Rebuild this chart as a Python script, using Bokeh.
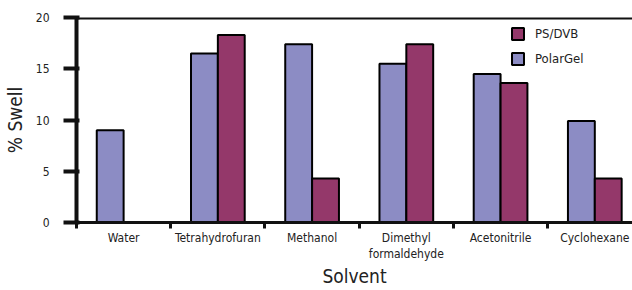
from bokeh.plotting import figure
from bokeh.models import FixedTicker, Span, Legend, LegendItem, ColumnDataSource, Range1d
from bokeh.embed import file_html
from bokeh.resources import INLINE

solvents = ["Water", "Tetrahydrofuran", "Methanol", "Dimethyl\nformaldehyde", "Acetonitrile", "Cyclohexane"]
polargel = [9.0, 16.5, 17.4, 15.5, 14.5, 9.9]
psdvb = [0.0, 18.3, 4.3, 17.4, 13.6, 4.3]
y_ticks = [0, 5, 10, 15, 20]
x_title = "Solvent"
y_title = "% Swell"

FONT = "DejaVu Sans Condensed, Roboto, sans-serif"
C_PG = "#8c8cc4"
C_PS = "#94386a"
TXT = "#222222"

centers = [i + 0.5 for i in range(len(solvents))]
bw = 0.285
src_pg = ColumnDataSource(dict(x=[c - bw / 2 for c in centers], top=polargel))
src_ps = ColumnDataSource(dict(x=[c + bw / 2 for c in centers], top=psdvb))

p = figure(width=632, height=290, output_backend="svg", toolbar_location=None,
           x_range=Range1d(0, 5.9), y_range=Range1d(0, 20.0),
           min_border_left=75, min_border_right=0, min_border_top=17, min_border_bottom=68)
p.outline_line_color = None
p.grid.visible = False
p.background_fill_color = "white"

r_pg = p.vbar(x="x", top="top", width=bw, source=src_pg, fill_color=C_PG,
              line_color="black", line_width=2)
r_ps = p.vbar(x="x", top="top", width=bw, source=src_ps, fill_color=C_PS,
              line_color="black", line_width=2)

# top border line
p.add_layout(Span(location=20, dimension="width", line_color="#111111", line_width=4))

# y axis
yax = p.yaxis[0]
yax.ticker = FixedTicker(ticks=y_ticks)
yax.axis_line_width = 4
yax.axis_line_color = "#111111"
yax.major_tick_line_width = 4
yax.major_tick_line_color = "#111111"
yax.major_tick_out = 13
yax.major_tick_in = 3
yax.minor_tick_line_color = None
yax.major_label_text_font = FONT
yax.major_label_text_font_size = "12px"
yax.major_label_text_color = TXT
yax.major_label_standoff = 14
yax.axis_label = y_title
yax.axis_label_text_font = FONT
yax.axis_label_text_font_style = "normal"
yax.axis_label_text_font_size = "19px"
yax.axis_label_text_color = TXT
yax.axis_label_standoff = 7

# x axis
xax = p.xaxis[0]
xax.ticker = FixedTicker(ticks=centers, minor_ticks=list(range(len(solvents) + 1)))
xax.major_label_overrides = {c: s for c, s in zip(centers, solvents)}
xax.axis_line_width = 3
xax.axis_line_color = "#111111"
xax.major_tick_line_color = None
xax.major_tick_out = 0
xax.major_tick_in = 0
xax.minor_tick_line_color = "#111111"
xax.minor_tick_line_width = 3
xax.minor_tick_out = 6
xax.minor_tick_in = 0
xax.major_label_text_font = FONT
xax.major_label_text_font_size = "12px"
xax.major_label_text_color = TXT
xax.major_label_standoff = 2
xax.axis_label = x_title
xax.axis_label_text_font = FONT
xax.axis_label_text_font_style = "normal"
xax.axis_label_text_font_size = "19px"
xax.axis_label_text_color = TXT
xax.axis_label_standoff = 1

legend = Legend(items=[LegendItem(label="PS/DVB", renderers=[r_ps]),
                       LegendItem(label="PolarGel", renderers=[r_pg])],
                location=(434, 156), background_fill_alpha=0, border_line_color=None,
                glyph_width=15, glyph_height=15, label_text_font=FONT,
                label_text_font_size="13px", label_text_color=TXT,
                spacing=10, label_standoff=10, padding=5, margin=0)
p.add_layout(legend)

open("out.html", "w").write(file_html(p, INLINE))
